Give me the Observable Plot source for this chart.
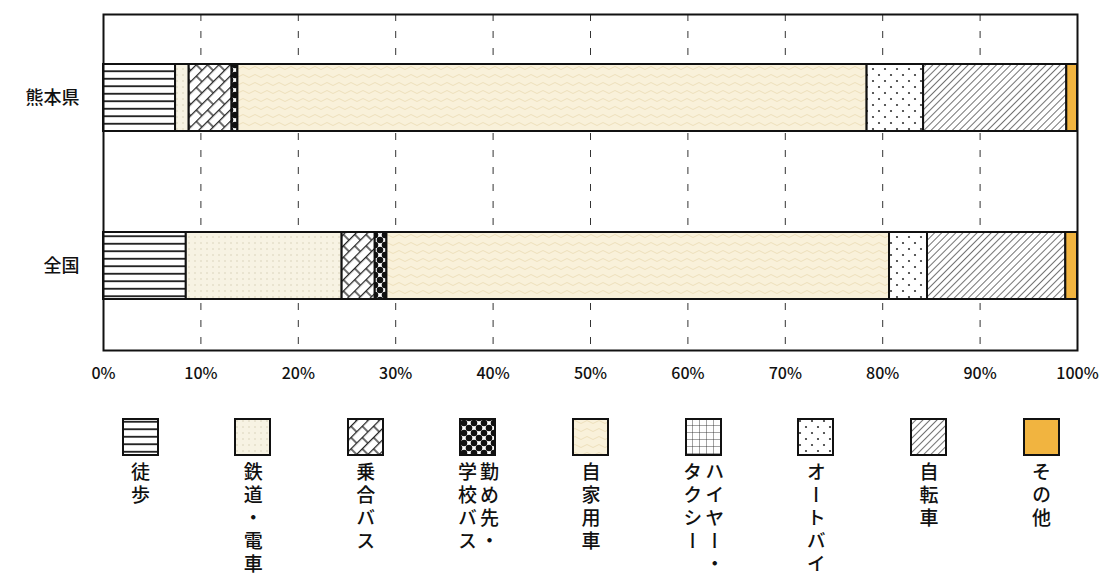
<!DOCTYPE html>
<html><head><meta charset="utf-8">
<script src="https://cdn.jsdelivr.net/npm/d3@7"></script>
<script src="https://cdn.jsdelivr.net/npm/@observablehq/plot@0.6"></script>
<style>
body{margin:0;background:#fff;font-family:"Noto Sans CJK JP",sans-serif;}
#wrap{position:relative;width:1104px;height:578px;overflow:hidden;background:#fff;}
#chart{position:absolute;left:0;top:0;}
.lg-box{position:absolute;box-sizing:border-box;width:37px;height:38px;}
.lg-text{position:absolute;writing-mode:vertical-rl;font-size:19px;font-weight:500;line-height:22px;letter-spacing:4px;color:#111;transform:translateX(-50%);white-space:nowrap;}
</style></head><body>
<svg width="0" height="0" style="position:absolute">
<defs>
<pattern id="p0" patternUnits="userSpaceOnUse" width="8" height="7.5"><rect width="8" height="7.5" fill="#fff"/><line x1="0" x2="8" y1="3.75" y2="3.75" stroke="#1a1a1a" stroke-width="1.8"/></pattern>
<pattern id="p1" patternUnits="userSpaceOnUse" width="6" height="6"><rect width="6" height="6" fill="#f7f3e3"/><circle cx="3" cy="3" r="0.8" fill="#d9d2b8"/></pattern>
<pattern id="p2" patternUnits="userSpaceOnUse" width="16" height="16" patternTransform="rotate(-45)"><rect width="16" height="16" fill="#fff"/><path d="M0,0.7H16M0,8.7H16M5,0.7V8.7M13,8.7V16.7M13,-7.3V0.7" stroke="#222" stroke-width="1.3" fill="none"/></pattern>
<pattern id="p3" patternUnits="userSpaceOnUse" width="10" height="10"><rect width="10" height="10" fill="#fff"/><circle cx="0" cy="0" r="3.3" fill="#111"/><circle cx="10" cy="0" r="3.3" fill="#111"/><circle cx="0" cy="10" r="3.3" fill="#111"/><circle cx="10" cy="10" r="3.3" fill="#111"/><circle cx="5" cy="5" r="3.3" fill="#111"/></pattern>
<pattern id="p4" patternUnits="userSpaceOnUse" width="12" height="8"><rect width="12" height="8" fill="#f9f1da"/><path d="M0,4 Q3,1 6,4 T12,4" stroke="#eee0bc" stroke-width="1" fill="none"/></pattern>
<pattern id="p5" patternUnits="userSpaceOnUse" width="7" height="7"><rect width="7" height="7" fill="#fff"/><path d="M0,0H7M0,0V7" stroke="#333" stroke-width="0.9"/></pattern>
<pattern id="p6" patternUnits="userSpaceOnUse" width="12" height="12"><rect width="12" height="12" fill="#fff"/><circle cx="3" cy="3" r="1.1" fill="#333"/><circle cx="9" cy="9" r="1.1" fill="#333"/></pattern>
<pattern id="p7" patternUnits="userSpaceOnUse" width="5" height="5" patternTransform="rotate(45)"><rect width="5" height="5" fill="#fff"/><line x1="0" y1="0" x2="0" y2="5" stroke="#444" stroke-width="1.5"/></pattern>
<pattern id="p8" patternUnits="userSpaceOnUse" width="4" height="4"><rect width="4" height="4" fill="#f1b440"/></pattern>
</defs>
</svg>
<div id="wrap"><div id="chart"></div><div id="legend"></div></div>
<script>
const regions = ["熊本県", "全国"];
const modes = ["徒歩", "鉄道・電車", "乗合バス", "勤め先・学校バス", "自家用車", "ハイヤー・タクシー", "オートバイ", "自転車", "その他"];
const kumamoto = [7.4, 1.4, 4.4, 0.6, 64.6, 0, 5.8, 14.7, 1.1];
const national = [8.5, 16.0, 3.4, 1.2, 51.6, 0, 3.9, 14.2, 1.2];
const xTicks = [0, 10, 20, 30, 40, 50, 60, 70, 80, 90, 100];
const legendColumns = [["徒歩"], ["鉄道・電車"], ["乗合バス"], ["勤め先・", "学校バス"], ["自家用車"], ["ハイヤー・", "タクシー"], ["オートバイ"], ["自転車"], ["その他"]];

const patternUrls = modes.map((_, i) => `url(#p${i})`);
const series = {"熊本県": kumamoto, "全国": national};
const rows = regions.flatMap(r => modes.map((m, i) => ({region: r, mode: m, value: series[r][i]}))).filter(d => d.value > 0);

const chart = Plot.plot({
  width: 1104, height: 400,
  marginLeft: 103, marginRight: 27, marginTop: 14, marginBottom: 50,
  style: {fontFamily: "'Noto Sans CJK JP', sans-serif", color: "#111", background: "transparent", fontWeight: 500},
  x: {domain: [0, 100]},
  y: {domain: regions, paddingInner: 0.6, paddingOuter: 0.3},
  color: {domain: modes, range: patternUrls},
  marks: [
    Plot.ruleX(xTicks.slice(1, -1), {stroke: "#333", strokeWidth: 1, strokeDasharray: "7,10"}),
    Plot.barX(rows, Plot.stackX({x: "value", y: "region", fill: "mode", stroke: "#111", strokeWidth: 2, order: null})),
    Plot.frame({stroke: "#111", strokeWidth: 2}),
    Plot.axisX({ticks: xTicks, tickFormat: d => d + "%", tickSize: 0, tickPadding: 17, fontSize: 16, label: null}),
    Plot.axisY({tickSize: 0, tickPadding: 24, fontSize: 18, label: null})
  ]
});
document.getElementById("chart").appendChild(chart);

const legend = document.getElementById("legend");
const lx = d3.scaleLinear().domain([0, modes.length - 1]).range([140, 1041]);
modes.forEach((m, i) => {
  const cx = lx(i);
  const box = document.createElementNS("http://www.w3.org/2000/svg", "svg");
  box.setAttribute("width", 37); box.setAttribute("height", 38);
  box.setAttribute("class", "lg-box");
  box.style.left = (cx - 18.5) + "px"; box.style.top = "418px";
  box.innerHTML = `<rect x="1" y="1" width="35" height="36" fill="${patternUrls[i]}" stroke="#111" stroke-width="2"/>`;
  legend.appendChild(box);
  const t = document.createElement("div");
  t.className = "lg-text";
  t.style.left = cx + "px"; t.style.top = "462px";
  t.innerHTML = legendColumns[i].join("<br>");
  legend.appendChild(t);
});
</script>
</body></html>
